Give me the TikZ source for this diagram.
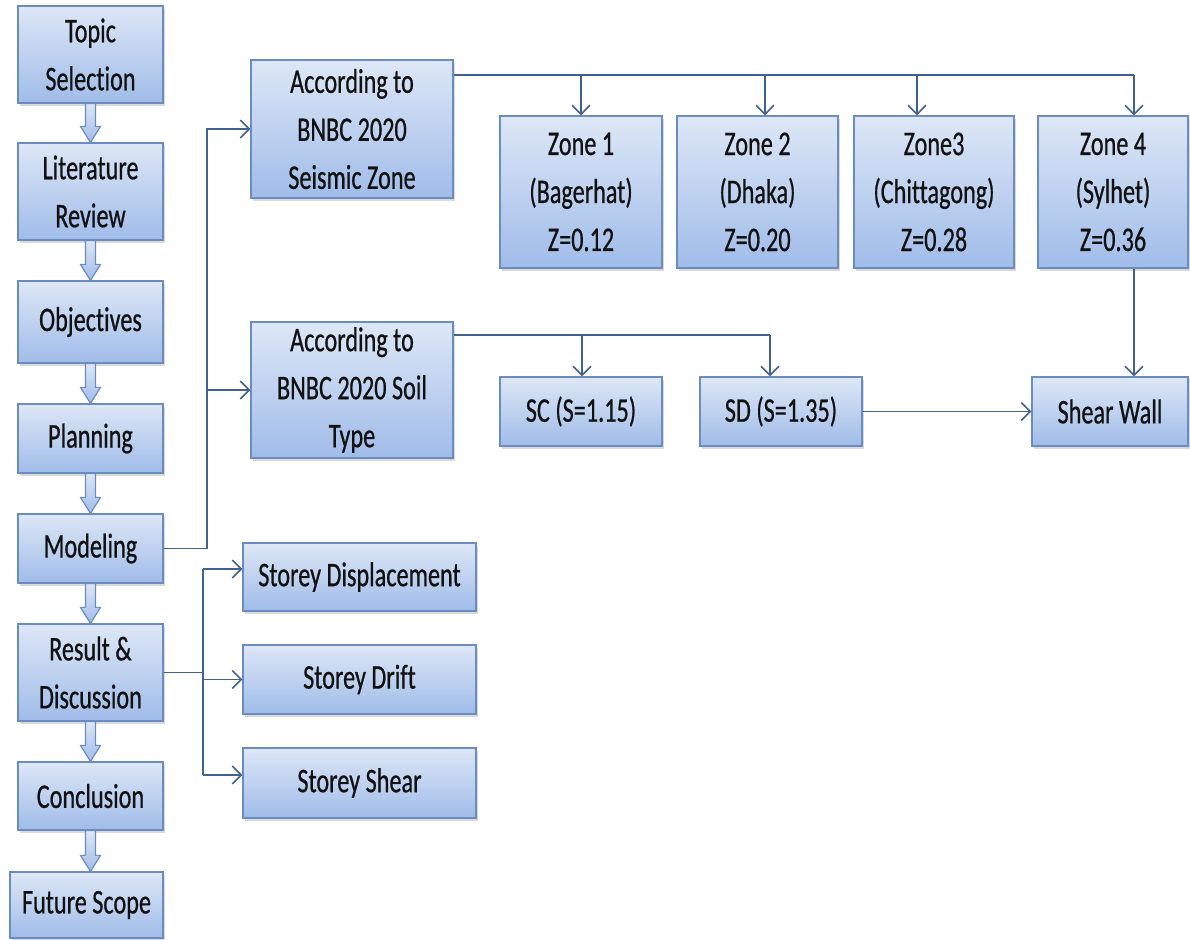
\documentclass[tikz,border=0pt]{standalone}
\usepackage{fontspec}
\setmainfont{Carlito}[FakeStretch=0.70, FakeBold=0.6, Ligatures={NoCommon}]
\usetikzlibrary{arrows.meta,shadows,calc}
\definecolor{boxtop}{HTML}{DDE7F6}
\definecolor{boxbot}{HTML}{A0BCE9}
\definecolor{boxline}{HTML}{6A8CC0}
\definecolor{conncol}{HTML}{40628F}
\definecolor{txt}{HTML}{111111}
\begin{document}
\begin{tikzpicture}[x=0.5pt,y=-0.5pt,
 box/.style={draw=boxline, line width=0.6pt, top color=boxtop, bottom color=boxbot,
   inner sep=0pt, align=center, text=txt, font=\fontsize{17.3}{24}\selectfont,
   drop shadow={shadow xshift=1pt, shadow yshift=-1.5pt, opacity=0.3}},
 conn/.style={draw=conncol, line width=0.9pt},
 arr/.style={conn, -{Straight Barb[length=4.5pt,width=9pt,line width=0.8pt]}},
 barrow/.style={draw=boxline, line width=0.6pt, top color=boxtop, bottom color=boxbot}]
\useasboundingbox (0,0) rectangle (1190,940);

% left column
\node[box, minimum width=72.5pt, minimum height=48.5pt] (topic) at (90.5,54.5) {Topic\\Selection};
\node[box, minimum width=72.5pt, minimum height=48.5pt] (lit) at (90.5,191.5) {Literature\\Review};
\node[box, minimum width=72.5pt, minimum height=41pt] (obj) at (90.5,322) {Objectives};
\node[box, minimum width=72.5pt, minimum height=34.5pt] (plan) at (90.5,438.5) {Planning};
\node[box, minimum width=72.5pt, minimum height=34.5pt] (model) at (90.5,548.5) {Modeling};
\node[box, minimum width=72.5pt, minimum height=48.5pt] (result) at (90.5,672.5) {Result \&\\Discussion};
\node[box, minimum width=72.5pt, minimum height=34pt] (concl) at (90.5,796) {Conclusion};
\node[box, minimum width=76.5pt, minimum height=33pt] (future) at (86.5,905) {Future Scope};

% middle
\node[box, minimum width=101pt, minimum height=69pt] (seis) at (352,129) {According to\\BNBC 2020\\Seismic Zone};
\node[box, minimum width=101pt, minimum height=68pt] (soil) at (352,390) {According to\\BNBC 2020 Soil\\Type};

% zones
\node[box, minimum width=81pt, minimum height=76pt] (z1) at (581,192) {Zone 1\\(Bagerhat)\\Z=0.12};
\node[box, minimum width=80.5pt, minimum height=76pt] (z2) at (757.5,192) {Zone 2\\(Dhaka)\\Z=0.20};
\node[box, minimum width=80pt, minimum height=76pt] (z3) at (934,192) {Zone3\\(Chittagong)\\Z=0.28};
\node[box, minimum width=75pt, minimum height=76pt] (z4) at (1113,192) {Zone 4\\(Sylhet)\\Z=0.36};

% soil types
\node[box, minimum width=81pt, minimum height=34.5pt] (sc) at (581,411.5) {SC (S=1.15)};
\node[box, minimum width=81pt, minimum height=34.5pt] (sd) at (781,411.5) {SD (S=1.35)};
\node[box, minimum width=78pt, minimum height=34.5pt] (sw) at (1110,411.5) {Shear Wall};

% results
\node[box, minimum width=116.5pt, minimum height=34pt] (disp) at (359.5,577) {Storey Displacement};
\node[box, minimum width=116.5pt, minimum height=34.5pt] (drift) at (359.5,679.5) {Storey Drift};
\node[box, minimum width=116.5pt, minimum height=35pt] (sshear) at (359.5,783) {Storey Shear};

% block arrows
\foreach \a/\b in {topic/lit, lit/obj, obj/plan, plan/model, model/result, result/concl, concl/future}{
  \draw[barrow] ($(\a.south)+(-5,0)$) -- ($(\a.south |- \b.north)+(-5,-16)$)
     -- ($(\a.south |- \b.north)+(-10,-16)$) -- (\a.south |- \b.north)
     -- ($(\a.south |- \b.north)+(10,-16)$) -- ($(\a.south |- \b.north)+(5,-16)$)
     -- ($(\a.south)+(5,0)$) -- cycle;
}

% seismic zone connectors
\coordinate (t1) at (581,75);
\coordinate (t2) at (765,75);
\coordinate (t3) at (917,75);
\coordinate (t4) at (1134,75);
\draw[conn] (seis.east |- t1) -- (t4);
\draw[arr] (t1) -- (t1 |- z1.north);
\draw[arr] (t2) -- (t2 |- z2.north);
\draw[arr] (t3) -- (t3 |- z3.north);
\draw[arr] (t4) -- (t4 |- z4.north);
\draw[arr] (t4 |- z4.south) -- (t4 |- sw.north);

% soil connectors
\coordinate (s1) at (582,335);
\coordinate (s2) at (770,335);
\draw[conn] (soil.east |- s1) -- (s2);
\draw[arr] (s1) -- (s1 |- sc.north);
\draw[arr] (s2) -- (s2 |- sd.north);
\draw[arr] (sd.east) -- (sw.west);

% modeling connectors
\coordinate (mv) at (207,548.5);
\draw[arr] (model.east) -- (mv) |- (seis.west);
\draw[arr] (mv |- soil.west) -- (soil.west);

% result connectors
\coordinate (rv) at (203,672.5);
\coordinate (r1) at (203,569);
\coordinate (r3) at (203,775);
\draw[conn] (result.east) -- (rv);
\draw[conn] (r1) -- (r3);
\draw[arr] (r1) -- (r1 -| disp.west);
\draw[arr] (rv |- drift.west) -- (drift.west);
\draw[arr] (r3) -- (r3 -| sshear.west);
\end{tikzpicture}
\end{document}
